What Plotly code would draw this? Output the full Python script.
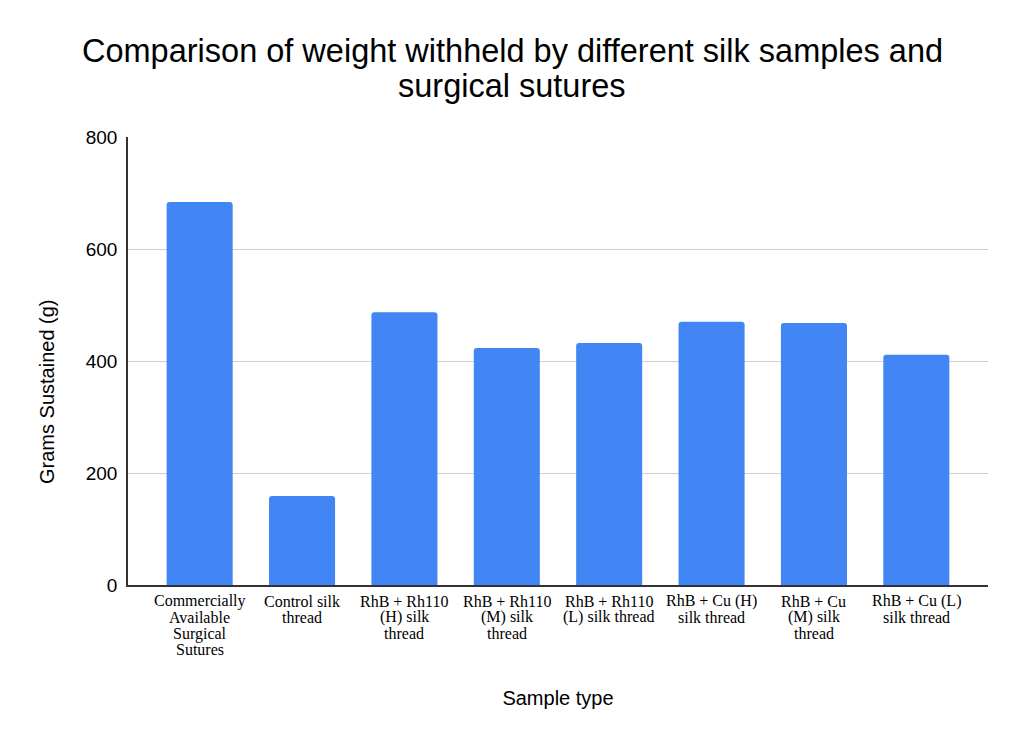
import plotly.graph_objects as go

samples = [
    "Commercially<br>Available<br>Surgical<br>Sutures",
    "Control silk<br>thread",
    "RhB + Rh110<br>(H) silk<br>thread",
    "RhB + Rh110<br>(M) silk<br>thread",
    "RhB + Rh110<br>(L) silk thread",
    "RhB + Cu (H)<br>silk thread",
    "RhB + Cu<br>(M) silk<br>thread",
    "RhB + Cu (L)<br>silk thread",
]
grams = [684, 159, 487, 423, 432, 470, 468, 411]
title_lines = ["Comparison of weight withheld by different silk samples and",
               "surgical sutures"]

fig = go.Figure()
fig.add_trace(go.Bar(x=samples, y=grams, marker_color="#4285f4",
                     marker_line_width=0, marker_cornerradius=3))

# category labels, one annotation per line so the line spacing stays tight
for name in samples:
    for i, line in enumerate(name.split("<br>")):
        fig.add_annotation(x=name, xref="x", y=0, yref="paper",
                           text=line, showarrow=False, yanchor="middle",
                           yshift=-(16 + 16.3 * i),
                           font=dict(family="Liberation Serif, Times New Roman",
                                     size=16, color="#000000"))

# title lines, centred on the page rather than the plot
for i, line in enumerate(title_lines):
    fig.add_annotation(x=(512 - 128) / 860, xref="paper", y=1, yref="paper",
                       text=line, showarrow=False, yanchor="middle",
                       yshift=86 - 35 * i,
                       font=dict(size=32.5, color="#000000"))

# y axis title
fig.add_annotation(x=-81 / 860, xref="paper", y=193 / 448, yref="paper",
                   text="Grams Sustained (g)", textangle=-90, showarrow=False,
                   xanchor="center", yanchor="middle",
                   font=dict(size=20, color="#000000"))

fig.update_layout(
    width=1024, height=745,
    margin=dict(l=120, r=44, t=129, b=168),
    plot_bgcolor="white", paper_bgcolor="white",
    bargap=0.355,
    showlegend=False,
    font=dict(family="Liberation Sans, Arial", color="#000000"),
)
fig.update_xaxes(
    title=dict(text="Sample type", font=dict(size=20), standoff=105),
    showticklabels=False, automargin=False,
    range=[-0.7, 7.7],
    showline=True, linecolor="#333333", linewidth=1.5,
    ticks="",
)
fig.update_yaxes(
    tickfont=dict(size=19), automargin=False, ticklabelstandoff=5,
    range=[0, 800], tickvals=[0, 200, 400, 600, 800],
    showgrid=True, gridcolor="#d0d0d0", gridwidth=1,
    showline=True, linecolor="#333333", linewidth=1.5,
    zeroline=False, ticks="",
)

fig.write_html("out.html")
